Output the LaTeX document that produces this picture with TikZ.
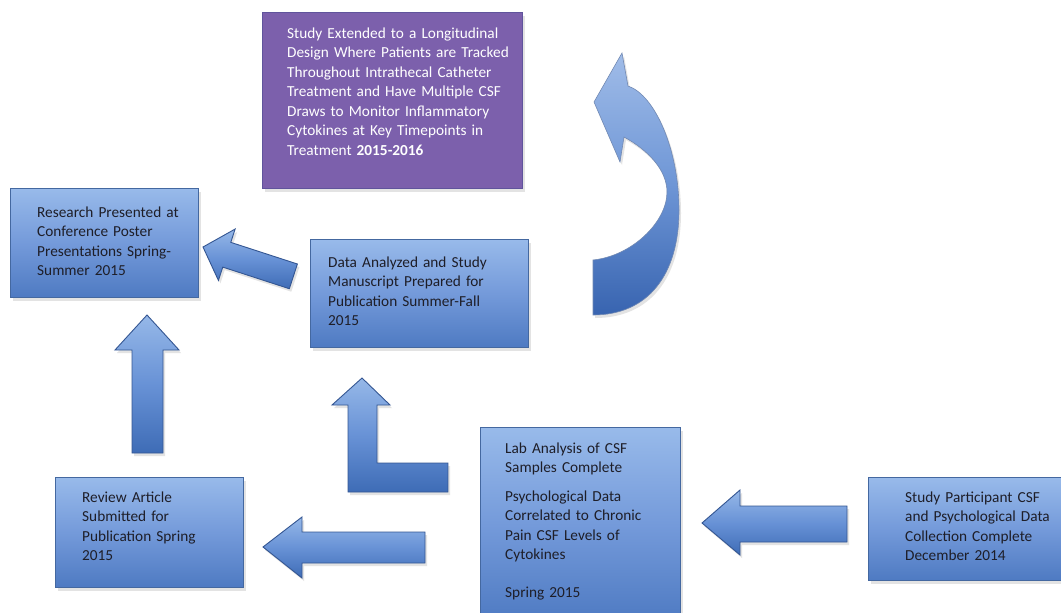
\documentclass[tikz,border=0pt]{standalone}
\usepackage{fontspec}
\setmainfont{Carlito}
\usetikzlibrary{shadows}
\definecolor{boxtop}{RGB}{152,186,234}
\definecolor{boxmid}{RGB}{116,154,218}
\definecolor{boxbot}{RGB}{78,122,194}
\definecolor{boxline}{RGB}{68,104,160}
\definecolor{purp}{RGB}{124,96,172}
\definecolor{purpline}{RGB}{96,84,156}
\definecolor{arrtop}{RGB}{150,184,232}
\definecolor{arrmid}{RGB}{104,146,214}
\definecolor{arrbot}{RGB}{62,108,182}
\definecolor{arrline}{RGB}{52,86,146}
\definecolor{curvtop}{RGB}{160,188,232}
\definecolor{curvmid}{RGB}{110,150,214}
\definecolor{curvbot}{RGB}{56,100,176}
\definecolor{txt}{RGB}{30,30,40}
\begin{document}
\begin{tikzpicture}[x=1pt,y=-1pt,
  shadowed/.style={drop shadow={opacity=0.22,shadow xshift=2pt,shadow yshift=-3pt}},
  bluebox/.style={shadowed,draw=boxline,line width=1pt,top color=boxtop,bottom color=boxbot,middle color=boxmid,inner sep=0pt,anchor=north west},
  purplebox/.style={shadowed,draw=purpline,line width=1pt,fill=purp,inner sep=0pt,anchor=north west},
  boxtext/.style={font=\fontsize{15.3}{19.5}\selectfont,text=txt,text width=230pt,align=left,inner sep=0pt,anchor=base west},
  blockarrow/.style={shadowed,draw=arrline,line width=0.9pt,line join=miter,top color=arrtop,bottom color=arrbot,middle color=arrmid},
  curvearrow/.style={shadowed,draw=arrline!70,line width=0.6pt,top color=curvtop,bottom color=curvbot,middle color=curvmid}]
\useasboundingbox (0,0) rectangle (1061,613);
\fill[white] (0,0) rectangle (1061,613);

% boxes
\node[purplebox,minimum width=260pt,minimum height=176pt] (P) at (262,12) {};
\node[bluebox,minimum width=188pt,minimum height=109pt] (R) at (10,188) {};
\node[bluebox,minimum width=218pt,minimum height=108pt] (D) at (310,239) {};
\node[bluebox,minimum width=200pt,minimum height=195pt] (L) at (480,427) {};
\node[bluebox,minimum width=188pt,minimum height=110pt] (V) at (55,477) {};
\node[bluebox,minimum width=205pt,minimum height=103pt] (S) at (868,477) {};

% texts
\node[boxtext,text=white] (Pt) at (287,38) {Study Extended to a Longitudinal\\Design Where Patients are Tracked\\Throughout Intrathecal Catheter\\Treatment and Have Multiple CSF\\Draws to Monitor Inflammatory\\Cytokines at Key Timepoints in\\Treatment \textbf{2015-2016}};
\node[boxtext] (Rt) at (37,217) {Research Presented at\\Conference Poster\\Presentations Spring-\\Summer 2015};
\node[boxtext] (Dt) at (328,267) {Data Analyzed and Study\\Manuscript Prepared for\\Publication Summer-Fall\\2015};
\node[boxtext] (Lt) at (505,453) {Lab Analysis of CSF\\Samples Complete\\[9pt]Psychological Data\\Correlated to Chronic\\Pain CSF Levels of\\Cytokines\\[18pt]Spring 2015};
\node[boxtext] (Vt) at (82,502) {Review Article\\Submitted for\\Publication Spring\\2015};
\node[boxtext] (St) at (905,502) {Study Participant CSF\\and Psychological Data\\Collection Complete\\December 2014};

% block arrows
\path[blockarrow] (263,547) -- (302,517) -- (302,532) -- (425,532) -- (425,563) -- (302,563) -- (302,578) -- cycle;
\path[blockarrow] (702,523) -- (740,490) -- (740,506) -- (847,506) -- (847,542) -- (740,542) -- (740,555) -- cycle;
\path[blockarrow] (147,315) -- (179,350) -- (163,350) -- (163,453) -- (132,453) -- (132,350) -- (115,350) -- cycle;
\path[blockarrow] (362,378) -- (390,405) -- (377,405) -- (377,463) -- (448,463) -- (448,492) -- (348,492) -- (348,405) -- (332,405) -- cycle;
\begin{scope}[shift={(203,247)},rotate=-18]
\path[blockarrow] (0,0) -- (25,-27) -- (25,-13) -- (95,-13) -- (95,13) -- (25,13) -- (25,27) -- cycle;
\end{scope}

% curved arrow
\path[curvearrow] (593,315) .. controls (648,315) and (679,275) .. (679,210)
  .. controls (679,150) and (655,95) .. (628,86) -- (622,53) -- (594,102) -- (620,162) -- (624,137)
  .. controls (648,150) and (667,170) .. (667,192)
  .. controls (667,222) and (632,256) .. (593,260) -- cycle;
\end{tikzpicture}
\end{document}
